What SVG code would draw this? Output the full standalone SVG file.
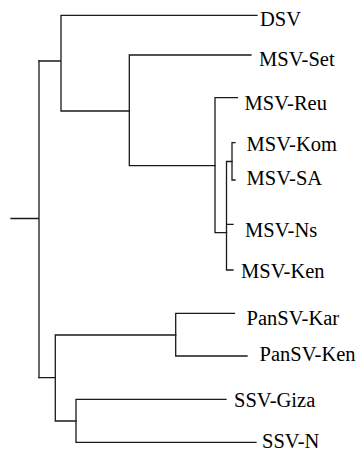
<svg xmlns="http://www.w3.org/2000/svg" width="362" height="453" viewBox="0 0 362 453">
  <style>
    .br { fill: none; stroke: #1a1a1a; stroke-width: 1.3; stroke-linecap: square; }
    text { font-family: "Liberation Serif", "Times New Roman", serif; font-size: 20.5px; fill: #000; }
  </style>
  <rect width="362" height="453" fill="#fff"/>
  <g id="connectors">
    <!-- root stub and root split -->
    <path class="br" d="M11 218.5 H39 M39 61 V377.7"/>
    <!-- upper clade -->
    <path class="br" d="M39 61 H61 M61 15.3 V111 M61 15.3 H257 M61 111 H129.3"/>
    <path class="br" d="M129.3 55 V165.7 M129.3 55 H251 M129.3 165.7 H215"/>
    <!-- MSV cluster -->
    <path class="br" d="M215 97.7 V232.7 M215 97.7 H237.5 M215 232.7 H226.5"/>
    <path class="br" d="M226.5 161.5 V270 M226.5 161.5 H232 M226.5 224.3 H233 M226.5 270 H233"/>
    <path class="br" d="M232 142.7 V180 M232 142.7 H235 M232 180 H235"/>
    <!-- lower clade -->
    <path class="br" d="M39 377.7 H55.3 M55.3 335 V421 M55.3 335 H175.7 M55.3 421 H76"/>
    <path class="br" d="M175.7 313.3 V356 M175.7 313.3 H234.5 M175.7 356 H247"/>
    <path class="br" d="M76 399.3 V442.3 M76 399.3 H226 M76 442.3 H256"/>
  </g>
  <g id="DSV"><text x="260" y="26">DSV</text></g>
  <g id="MSV-Set"><text x="259" y="65.5">MSV-Set</text></g>
  <g id="MSV-Reu"><text x="244.5" y="110">MSV-Reu</text></g>
  <g id="MSV-Kom"><text x="246.5" y="150.5">MSV-Kom</text></g>
  <g id="MSV-SA"><text x="246.5" y="185">MSV-SA</text></g>
  <g id="MSV-Ns"><text x="245" y="237">MSV-Ns</text></g>
  <g id="MSV-Ken"><text x="241" y="278">MSV-Ken</text></g>
  <g id="PanSV-Kar"><text x="246.5" y="325">PanSV-Kar</text></g>
  <g id="PanSV-Ken"><text x="259.5" y="360.5">PanSV-Ken</text></g>
  <g id="SSV-Giza"><text x="234" y="406.5">SSV-Giza</text></g>
  <g id="SSV-N"><text x="262" y="448">SSV-N</text></g>
</svg>
